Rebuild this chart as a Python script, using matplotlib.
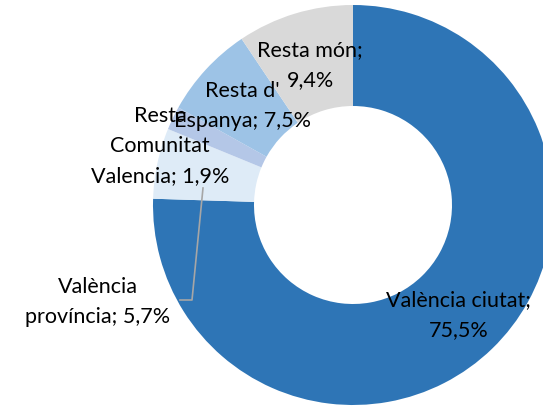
import matplotlib
matplotlib.use("Agg")
import matplotlib.pyplot as plt

plt.rcParams['font.family'] = ['Lato', 'DejaVu Sans']

# data
labels = ["València ciutat", "València\nprovíncia", "Resta\nComunitat\nValencia",
          "Resta d'\nEspanya", "Resta món"]
values = [75.5, 5.7, 1.9, 7.5, 9.4]
value_text = ["75,5%", "5,7%", "1,9%", "7,5%", "9,4%"]
colors = ["#2E75B6", "#DEEBF7", "#B4C7E7", "#9DC3E6", "#D9D9D9"]

W, H = 543, 408
fig = plt.figure(figsize=(W / 100, H / 100), dpi=100)
ax = fig.add_axes([0, 0, 1, 1])

cx, cy, R = 353, H - 205, 200
ax.pie(values, colors=colors, startangle=90, counterclock=False,
       center=(cx, cy), radius=R,
       wedgeprops=dict(width=R * 0.505, edgecolor='none'))

# label texts (label; value), placed like the original
texts = []
for lab, v in zip(labels, value_text):
    if lab in ("València ciutat", "Resta món"):
        texts.append(lab + ";\n" + v)
    else:
        texts.append(lab + "; " + v)

label_pos = [(459, 315), (98, 302), (160, 146), (242, 106), (310, 65)]
for t, (x, y) in zip(texts, label_pos):
    ax.text(x, H - y, t, ha='center', va='center', fontsize=15.5,
            color='#000000', linespacing=1.62, multialignment='center')

# leader line for València província
ax.plot([180, 192, 203], [H - 300, H - 300, H - 188], color='#A6A6A6', lw=1.2)

ax.set_xlim(0, W)
ax.set_ylim(0, H)
ax.set_aspect('equal')
ax.axis('off')

fig.savefig("out.png", dpi=100)
